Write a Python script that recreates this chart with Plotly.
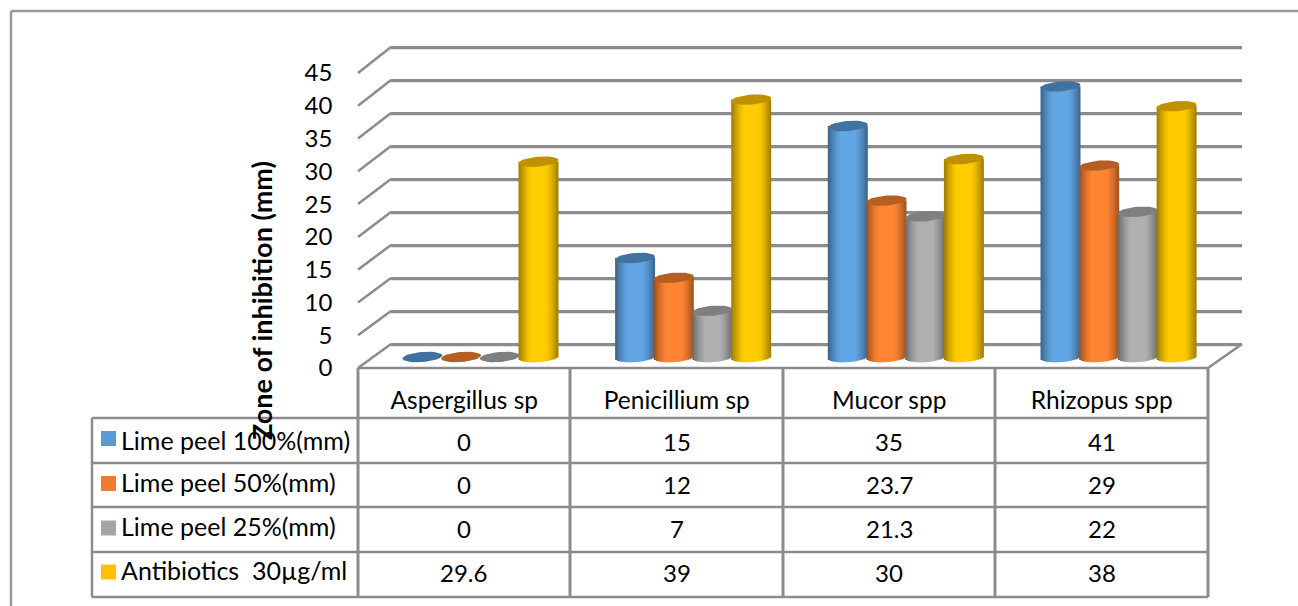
import math
import plotly.graph_objects as go

W, H = 1298, 606

categories = ["Aspergillus sp", "Penicillium sp", "Mucor spp", "Rhizopus spp"]
series_names = ["Lime peel 100%(mm)", "Lime peel 50%(mm)", "Lime peel 25%(mm)", "Antibiotics  30µg/ml"]
lime_100 = [0, 15, 35, 41]
lime_50 = [0, 12, 23.7, 29]
lime_25 = [0, 7, 21.3, 22]
antibiotics = [29.6, 39, 30, 38]
y_ticks = [0, 5, 10, 15, 20, 25, 30, 35, 40, 45]

series_values = [lime_100, lime_50, lime_25, antibiotics]
key_colors = ["#5B9BD5", "#ED7D31", "#A5A5A5", "#FFC000"]
center_colors = [(98, 165, 227), (255, 133, 51), (176, 176, 176), (255, 204, 0)]
top_colors = ["#41729F", "#B55F23", "#7F7F7F", "#BF9000"]

FONT = "Lato"
LINE = "#8C8C8C"
FS_NAME = 25
FS_NUM = 24
FS_CAT = 24.5


def fx(px):
    return px / W


def fy(py):
    return 1 - py / H


# Three planes of the fake 3D box: back wall, bar plane, front plane
back = dict(x=(391, 1242), y=(344, 47))
front = dict(x=(358, 1208), y=(368, 73))
BACK_SCALE = (back["y"][0] - back["y"][1]) / 45
BACK_PAD = 2
BAR_ZERO = 357
BAR_SCALE = 6.6
CAT_W = 212.7
BAR_X0 = 374.1
BAR_LOW = -3

fig = go.Figure()

# ---- bars, drawn as strips of shade so that they read as cylinders
N = 20
SPACING = 38.7
BAR_W = 40.0
A = BAR_W / 2
B = 5.0
SLANT = 0.075


def shade(rgb, t):
    u = abs(2 * t - 1)
    f = 1.0 if u < 0.35 else 1.0 - 0.40 * ((u - 0.35) / 0.65) ** 1.4
    return "rgb({},{},{})".format(*[int(c * f) for c in rgb])


for i, vals in enumerate(series_values):
    for k in range(N):
        t = (k + 0.5) / N
        u = 2 * t - 1
        left_px = (i - 1.5) * SPACING - BAR_W / 2 + k * BAR_W / N
        base_px = B * math.sqrt(1 - u * u) - u * A * SLANT
        base_v = -base_px / BAR_SCALE
        strip_w = BAR_W / N + (1.2 if k < N - 1 else 0)
        fig.add_trace(go.Bar(
            x=list(range(len(categories))),
            y=[(v - base_v) if v > 0 else None for v in vals],
            base=base_v,
            width=strip_w / CAT_W,
            offset=left_px / CAT_W,
            marker=dict(color=shade(center_colors[i], t), line=dict(width=0)),
            name=series_names[i],
            showlegend=False,
            xaxis="x2", yaxis="y2",
            zorder=i,
        ))
    # ellipse on the top of each cylinder
    ex, ey = [], []
    for c, v in enumerate(vals):
        cx = c + (i - 1.5) * SPACING / CAT_W
        for s in range(41):
            a = 2 * math.pi * s / 40
            dx = A * math.cos(a)
            dy = B * math.sin(a) + SLANT * dx
            ex.append(cx + dx / CAT_W)
            ey.append(v + dy / BAR_SCALE)
        ex.append(None)
        ey.append(None)
    fig.add_trace(go.Scatter(
        x=ex, y=ey, mode="lines", fill="toself", fillcolor=top_colors[i],
        line=dict(width=0, color=top_colors[i]), showlegend=False,
        hoverinfo="skip", xaxis="x2", yaxis="y2", zorder=i,
    ))

# ---- boxes and lines that are not data
shapes = []


def line(x0, y0, x1, y1, color=LINE, width=2.5):
    shapes.append(dict(type="line", xref="paper", yref="paper", layer="below",
                       x0=fx(x0), y0=fy(y0), x1=fx(x1), y1=fy(y1),
                       line=dict(color=color, width=width)))


def y_back(v):
    return back["y"][0] + (back["y"][1] - back["y"][0]) * v / 45


def y_front(v):
    return front["y"][0] + (front["y"][1] - front["y"][0]) * v / 45


# outer frame
line(11, 11, 1298, 11, "#999999", 2.5)
line(11, 11, 11, 606, "#999999", 2.5)

# soft shadow below the back wall lines, and the side wall diagonals
for v in y_ticks:
    line(back["x"][0], y_back(v) + 2.2, back["x"][1], y_back(v) + 2.2, "#E2E2E2", 1.5)
    line(front["x"][0], y_front(v), back["x"][0], y_back(v))
line(front["x"][1], front["y"][0], back["x"][1], back["y"][0])
line(front["x"][0], front["y"][0], front["x"][1], front["y"][0])

# data table
row_y = [418, 463, 507, 552, 597]
col_x = [358, 570, 783, 995, 1208]
key_y = [438.5, 483.5, 528, 572]
name_y = [440, 482, 526, 570]
value_y = [441, 484, 528, 572]
for y in row_y:
    line(92, y, 1208, y)
line(92, row_y[0], 92, row_y[-1])
for x in col_x:
    line(x, 368, x, row_y[-1], width=3)

annotations = []
for r, name in enumerate(series_names):
    shapes.append(dict(type="rect", xref="paper", yref="paper", layer="below",
                       x0=fx(101), x1=fx(116), y0=fy(key_y[r] - 7.5), y1=fy(key_y[r] + 7.5),
                       fillcolor=key_colors[r], line=dict(width=0)))
    annotations.append(dict(xref="paper", yref="paper", x=fx(119), y=fy(name_y[r]),
                            text=name, showarrow=False, xanchor="left", yanchor="middle",
                            font=dict(family=FONT, size=FS_NAME, color="black")))
    for c, v in enumerate(series_values[r]):
        annotations.append(dict(xref="paper", yref="paper",
                                x=fx((col_x[c] + col_x[c + 1]) / 2), y=fy(value_y[r]),
                                text=f"{v:g}", showarrow=False,
                                xanchor="center", yanchor="middle",
                                font=dict(family=FONT, size=FS_NUM, color="black")))

annotations.append(dict(xref="paper", yref="paper", x=fx(261), y=fy(301),
                        text="<b>Zone of inhibition (mm)</b>", textangle=-90, showarrow=False,
                        xanchor="center", yanchor="middle",
                        font=dict(family=FONT, size=27, color="black")))

n = len(categories)
hidden = dict(showgrid=False, zeroline=False, showline=False, showticklabels=False, ticks="",
              automargin=False)

fig.update_layout(
    width=W, height=H, autosize=False,
    margin=dict(l=0, r=0, t=0, b=0, pad=0),
    paper_bgcolor="white", plot_bgcolor="rgba(0,0,0,0)",
    barmode="overlay", showlegend=False,
    font=dict(family=FONT, size=FS_NUM, color="black"),
    shapes=shapes, annotations=annotations,
    # back wall: its gridlines are the box's horizontal lines
    xaxis=dict(domain=[fx(back["x"][0]), fx(back["x"][1])], range=[-0.5, n - 0.5], **hidden),
    yaxis=dict(domain=[fy(back["y"][0] + BACK_PAD * BACK_SCALE), fy(back["y"][1] - BACK_PAD * BACK_SCALE)],
               range=[-BACK_PAD, 45 + BACK_PAD], tickvals=y_ticks, automargin=False,
               showgrid=True, gridcolor=LINE, gridwidth=2.5, zeroline=False, showline=False,
               showticklabels=False, ticks=""),
    # bar plane
    xaxis2=dict(domain=[fx(BAR_X0), fx(BAR_X0 + CAT_W * n)], range=[-0.5, n - 0.5],
                anchor="y2", **hidden),
    yaxis2=dict(domain=[fy(BAR_ZERO - BAR_LOW * BAR_SCALE), fy(BAR_ZERO - 45 * BAR_SCALE)],
                range=[BAR_LOW, 45], anchor="x2", **hidden),
    # front plane: the tick labels
    xaxis3=dict(domain=[fx(front["x"][0]), fx(front["x"][1])], range=[-0.5, n - 0.5],
                anchor="y3", tickvals=list(range(n)), ticktext=categories, automargin=False,
                showgrid=False, zeroline=False, showline=False,
                ticks="outside", ticklen=11, tickcolor="rgba(0,0,0,0)",
                tickfont=dict(family=FONT, size=FS_CAT, color="black")),
    yaxis3=dict(domain=[fy(front["y"][0]), fy(front["y"][1])], range=[0, 45],
                anchor="x3", tickvals=y_ticks, automargin=False,
                showgrid=False, zeroline=False, showline=True, linecolor=LINE, linewidth=2.5,
                ticks="outside", ticklen=18, tickcolor="rgba(0,0,0,0)",
                tickfont=dict(family=FONT, size=FS_NUM, color="black")),
)

# empty traces so that the front plane's and the back wall's axes are drawn
fig.add_trace(go.Scatter(x=[None], y=[None], xaxis="x3", yaxis="y3", showlegend=False))
fig.add_trace(go.Scatter(x=[None], y=[None], xaxis="x", yaxis="y", showlegend=False))

fig.write_html("out.html", config={"displayModeBar": False},
               post_script="document.body.style.margin='0';document.body.style.overflow='hidden';")
